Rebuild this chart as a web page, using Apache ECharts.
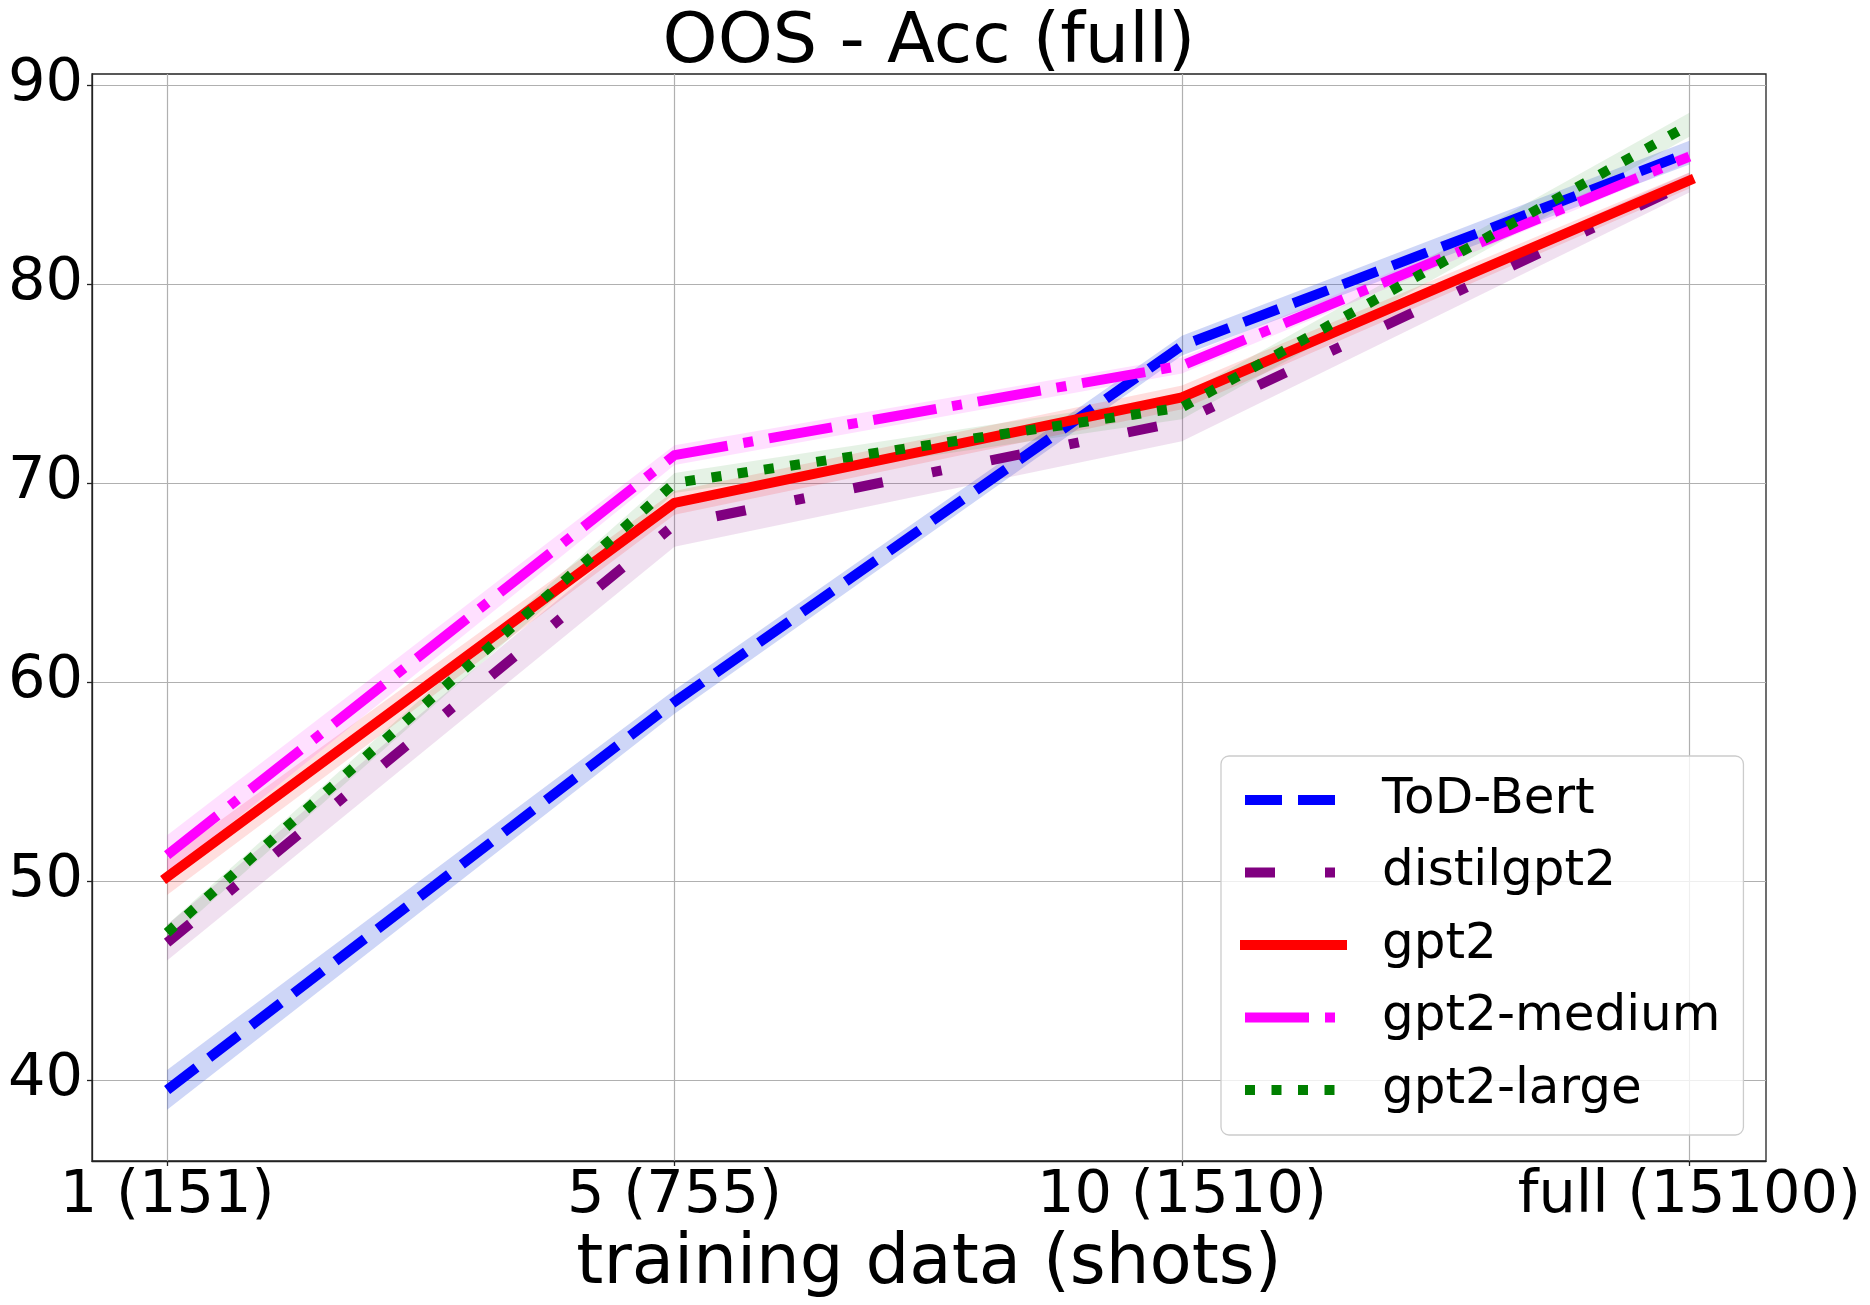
<!DOCTYPE html>
<html>
<head>
<meta charset="utf-8">
<script src="https://cdn.jsdelivr.net/npm/echarts@6/dist/echarts.min.js"></script>
<style>
  html, body { margin: 0; padding: 0; background: #ffffff; }
  #chart { width: 1870px; height: 1305px; }
</style>
</head>
<body>
<div id="chart"></div>
<script>
// ---- data ----
const categories = ['1 (151)', '5 (755)', '10 (1510)', 'full (15100)'];
const xValues = [0, 1, 2, 3];
const yTicks = [40, 50, 60, 70, 80, 90];

const seriesNames = ['ToD-Bert', 'distilgpt2', 'gpt2', 'gpt2-medium', 'gpt2-large'];

const todBert = [39.5, 59.0, 76.9, 86.6];
const todBertStd = [1.0, 0.6, 0.5, 0.6];

const distilgpt2 = [46.9, 67.9, 73.1, 85.1];
const distilgpt2Std = [0.9, 1.1, 1.0, 0.5];

const gpt2 = [50.2, 69.0, 74.3, 85.2];
const gpt2Std = [0.9, 0.6, 0.6, 0.4];

const gpt2Medium = [51.3, 71.4, 75.9, 86.4];
const gpt2MediumStd = [1.0, 0.5, 0.4, 0.3];

const gpt2Large = [47.4, 70.0, 73.8, 88.0];
const gpt2LargeStd = [0.4, 0.5, 0.6, 0.6];

// ---- styles ----
const FONT = 'DejaVu Sans';
const styles = [
  { color: '#0000ff', band: 'rgba(30,70,220,0.22)', dash: [37, 16], cap: 'butt' },
  { color: '#800080', band: 'rgba(128,0,128,0.12)', dash: [30, 50, 10, 50], cap: 'butt' },
  { color: '#ff0000', band: 'rgba(255,0,0,0.13)', dash: 'solid', cap: 'square' },
  { color: '#ff00ff', band: 'rgba(255,0,255,0.12)', dash: [64, 16, 10, 16], cap: 'butt' },
  { color: '#008000', band: 'rgba(0,128,0,0.10)', dash: [10, 16.5], cap: 'butt' }
];
const means = [todBert, distilgpt2, gpt2, gpt2Medium, gpt2Large];
const stds = [todBertStd, distilgpt2Std, gpt2Std, gpt2MediumStd, gpt2LargeStd];

function bandSeries(idx) {
  const mean = means[idx], std = stds[idx];
  return {
    type: 'custom',
    name: seriesNames[idx] + ' band',
    silent: true,
    z: 1,
    data: mean.map((m, i) => [xValues[i], m - std[i], m + std[i]]),
    encode: { x: 0, y: [1, 2] },
    renderItem: function (params, api) {
      if (params.dataIndex !== 0) return;
      const upper = [], lower = [];
      for (let i = 0; i < mean.length; i++) {
        upper.push(api.coord([xValues[i], mean[i] + std[i]]));
        lower.push(api.coord([xValues[i], mean[i] - std[i]]));
      }
      return {
        type: 'polygon',
        shape: { points: upper.concat(lower.reverse()) },
        style: { fill: styles[idx].band, stroke: null }
      };
    }
  };
}

function lineSeries(idx) {
  const s = styles[idx];
  return {
    type: 'line',
    name: seriesNames[idx],
    data: means[idx].map((m, i) => [xValues[i], m]),
    symbol: 'none',
    z: 3 + idx,
    animation: false,
    lineStyle: { color: s.color, width: 10, type: s.dash, cap: s.cap, join: 'round' },
    itemStyle: { color: s.color }
  };
}

const series = [];
for (let i = 0; i < 5; i++) series.push(bandSeries(i));
for (let i = 0; i < 5; i++) series.push(lineSeries(i));

const chart = echarts.init(document.getElementById('chart'), null, { renderer: 'canvas' });
chart.setOption({
  animation: false,
  backgroundColor: '#ffffff',
  title: {
    text: 'OOS - Acc (full)',
    left: 929,
    top: 9,
    padding: 0,
    textAlign: 'center',
    textStyle: { fontFamily: FONT, fontSize: 70, fontWeight: 'normal', color: '#000' }
  },
  grid: {
    left: 92, right: 104, top: 74, bottom: 144,
    show: true, borderColor: '#222222', borderWidth: 1.3, backgroundColor: 'transparent'
  },
  xAxis: {
    type: 'value',
    min: -0.148, max: 3.151,
    name: 'training data (shots)',
    nameLocation: 'middle',
    nameGap: 68,
    nameTextStyle: { fontFamily: FONT, fontSize: 69, color: '#000' },
    axisLine: { show: true, onZero: false, lineStyle: { color: '#222222', width: 1.3 } },
    axisTick: { show: true, length: 5, customValues: xValues, lineStyle: { color: '#222222', width: 1.3 } },
    axisLabel: {
      customValues: xValues,
      margin: 6,
      fontFamily: FONT, fontSize: 59, color: '#000',
      formatter: function (v) { return categories[Math.round(v)] || ''; }
    },
    splitLine: { show: true, lineStyle: { color: '#b0b0b0', width: 1.2 } }
  },
  yAxis: {
    type: 'value',
    min: 35.93, max: 90.55,
    axisLine: { show: true, onZero: false, lineStyle: { color: '#222222', width: 1.3 } },
    axisTick: { show: true, length: 5, customValues: yTicks, lineStyle: { color: '#222222', width: 1.3 } },
    axisLabel: {
      customValues: yTicks,
      margin: 9,
      fontFamily: FONT, fontSize: 59, color: '#000'
    },
    splitLine: { show: true, lineStyle: { color: '#b0b0b0', width: 1.2 } }
  },
  legend: {
    data: seriesNames,
    orient: 'vertical',
    left: 1221, top: 756,
    padding: [19, 23, 20, 19],
    itemWidth: 97, itemHeight: 10, itemGap: 22.5,
    backgroundColor: 'rgba(255,255,255,0.8)',
    borderColor: '#cccccc', borderWidth: 1.3, borderRadius: 8,
    selectedMode: false,
    textStyle: { fontFamily: FONT, fontSize: 50, color: '#000', lineHeight: 49, padding: [0, 0, 0, 35] },
    lineStyle: { width: 10 },
    itemStyle: { opacity: 0 }
  },
  series: series
});
</script>
</body>
</html>
